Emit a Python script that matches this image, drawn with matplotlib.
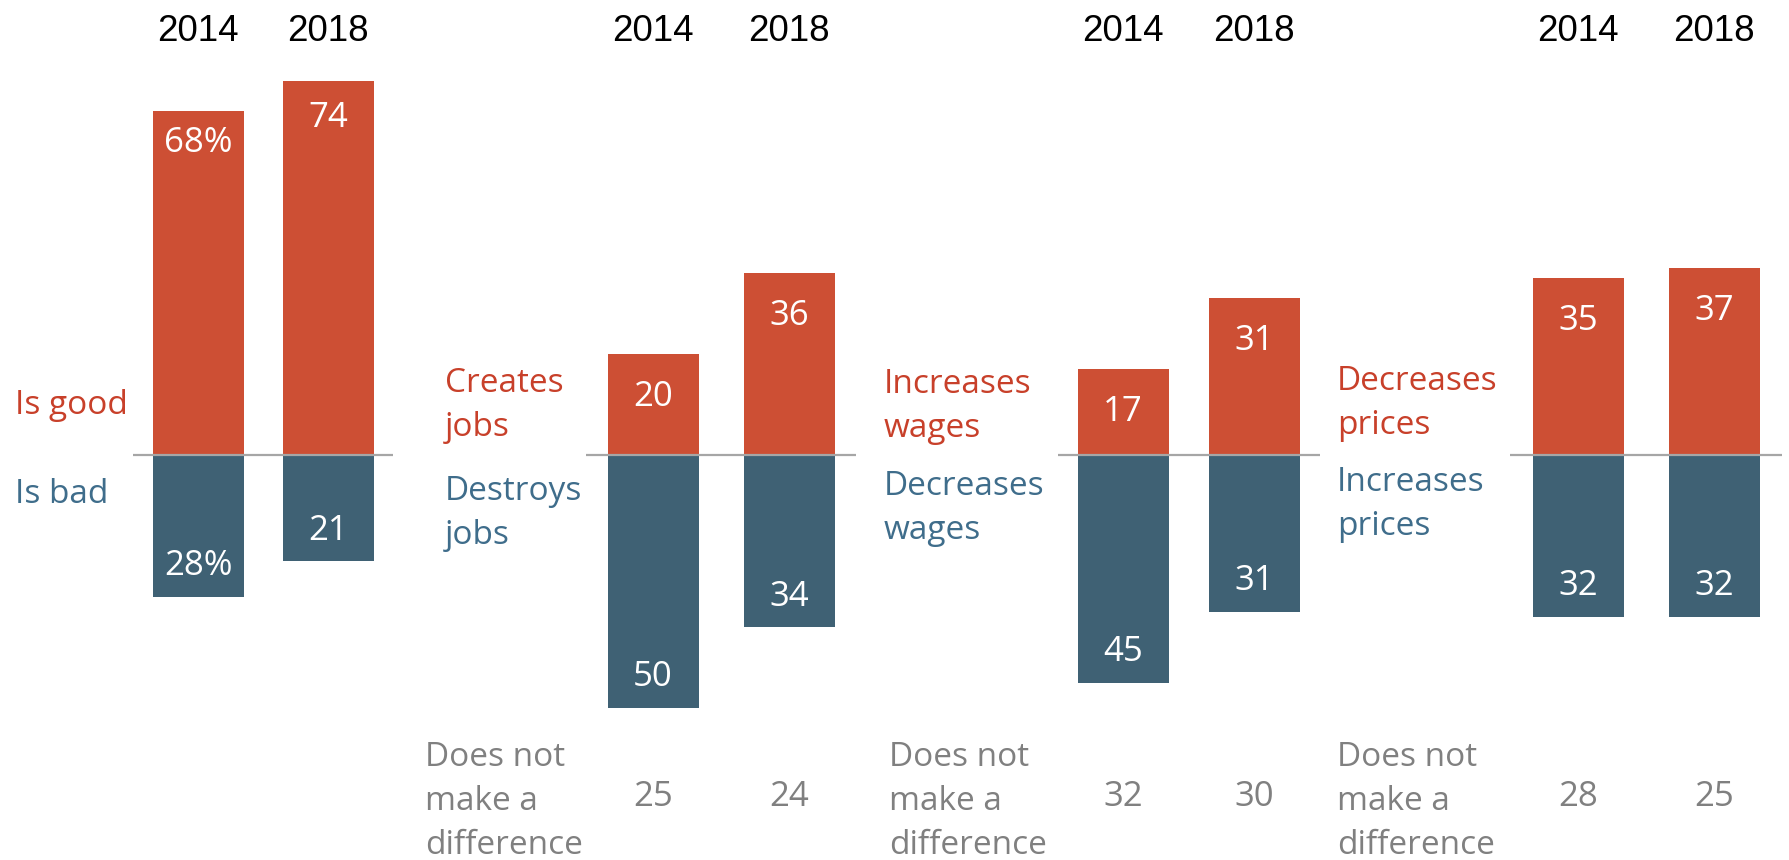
import matplotlib
matplotlib.use("Agg")
import matplotlib.pyplot as plt

# ---------------- data ----------------
years = ["2014", "2018"]
good_labels = ["Is good", "Creates\njobs", "Increases\nwages", "Decreases\nprices"]
bad_labels = ["Is bad", "Destroys\njobs", "Decreases\nwages", "Increases\nprices"]
good_vals = [[68, 74], [20, 36], [17, 31], [35, 37]]
bad_vals = [[28, 21], [50, 34], [45, 31], [32, 32]]
nodiff_vals = [None, [25, 24], [32, 30], [28, 25]]
nodiff_label = "Does not\nmake a\ndifference"

# ---------------- style / layout ----------------
W, H, DPI = 1789, 860, 100
BASE_PX = 455          # pixel row of the zero line (from top)
PXU = 5.06             # pixels per percentage point
RED = "#CD4F34"
BLUE = "#3F6174"
RED_TXT = "#C8402A"
BLUE_TXT = "#3F6D8B"
GRAY_TXT = "#808080"
LINE_C = "#A6A6A6"
FONT = "Open Sans"
YEAR_FONT = "Liberation Sans"
LS = 1.43              # line spacing for wrapped labels

bar_x = [[198, 328], [653, 789], [1123, 1254], [1578, 1714]]
bar_w = 91
line_spans = [(133, 393), (586, 856), (1058, 1320), (1510, 1782)]
label_x = [15, 445, 884, 1337]
# baseline (pixel row) of the LAST line of each label
good_base = [414, 436, 437, 434]
bad_base = [503, 544, 539, 535]
top_off = [[41, 46], [52, 52], [52, 52], [52, 52]]
bot_off = 21.5
nodiff_x = [None, 425, 889, 1337]
nodiff_base = 854
nodiff_num_base = 806
year_base = 41


def py(ypx):
    """pixel row (from top) -> data y"""
    return (BASE_PX - ypx) / PXU


def pt(px):
    return px * 72.0 / DPI


fig = plt.figure(figsize=(W / DPI, H / DPI), dpi=DPI)
ax = fig.add_axes([0, 0, 1, 1])
ax.set_xlim(0, W)
ax.set_ylim(py(H), py(0))
ax.axis("off")

for p in range(4):
    xs = bar_x[p]
    # bars
    ax.bar(xs, good_vals[p], width=bar_w, bottom=0, color=RED, edgecolor="none")
    ax.bar(xs, [-v for v in bad_vals[p]], width=bar_w, bottom=0, color=BLUE, edgecolor="none")
    # zero line
    x0, x1 = line_spans[p]
    ax.plot([x0, x1], [0, 0], color=LINE_C, lw=pt(2.2), solid_capstyle="butt", zorder=3)

    for i in range(2):
        gv = good_vals[p][i]
        bv = bad_vals[p][i]
        suffix = "%" if (p == 0 and i == 0) else ""
        ax.annotate(f"{gv}{suffix}", xy=(xs[i], gv), xytext=(0, -pt(top_off[p][i])),
                    textcoords="offset points", ha="center", va="baseline",
                    color="white", fontsize=25, family=FONT, zorder=4)
        ax.annotate(f"{bv}{suffix}", xy=(xs[i], -bv), xytext=(0, pt(bot_off)),
                    textcoords="offset points", ha="center", va="baseline",
                    color="white", fontsize=25, family=FONT, zorder=4)
        # year headers
        ax.text(xs[i], py(year_base), years[i], ha="center", va="baseline",
                fontsize=26.5, family=YEAR_FONT, color="black")
        # does-not-make-a-difference values
        if nodiff_vals[p] is not None:
            ax.text(xs[i], py(nodiff_num_base), str(nodiff_vals[p][i]), ha="center",
                    va="baseline", fontsize=25, family=FONT, color=GRAY_TXT)

    # category labels
    ax.text(label_x[p], py(good_base[p]), good_labels[p], ha="left", va="baseline",
            fontsize=24, family=FONT, color=RED_TXT, linespacing=LS)
    ax.text(label_x[p], py(bad_base[p]), bad_labels[p], ha="left", va="baseline",
            fontsize=24, family=FONT, color=BLUE_TXT, linespacing=LS)
    if nodiff_x[p] is not None:
        ax.text(nodiff_x[p], py(nodiff_base), nodiff_label, ha="left", va="baseline",
                fontsize=24, family=FONT, color=GRAY_TXT, linespacing=LS)

fig.savefig("out.png", dpi=DPI)
